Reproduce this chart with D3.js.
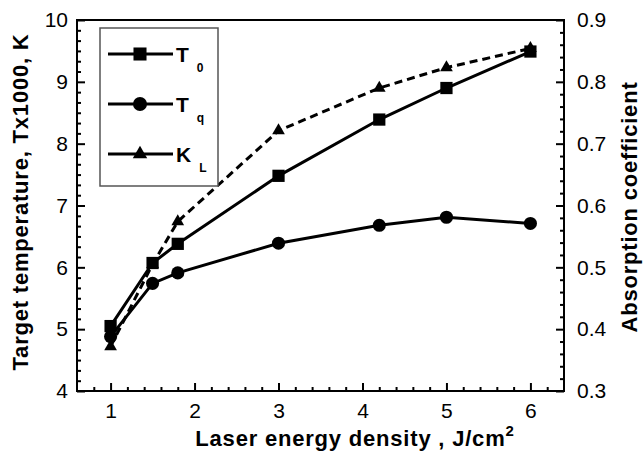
<!DOCTYPE html>
<meta charset="utf-8">
<head>
<style>
  body { margin: 0; background: #fff; }
  svg text { font-family: "Liberation Sans", Arial, sans-serif; fill: #000; }
  .tick text { font-size: 21px; }
  .title { font-size: 22px; font-weight: bold; letter-spacing: 0.8px; }
  .leg { font-size: 21px; font-weight: bold; }
</style>
</head>
<script src="https://d3js.org/d3.v7.min.js"></script>
<div id="chart"></div>
<script>
// data
var energy = [1, 1.5, 1.8, 3, 4.2, 5, 6];
var tempT0 = [5.05, 6.07, 6.38, 7.48, 8.39, 8.9, 9.49];
var tempTq = [4.88, 5.74, 5.91, 6.39, 6.68, 6.81, 6.71];
var absorbKL = [0.372, 0.505, 0.574, 0.721, 0.79, 0.823, 0.854];

var xTicks = [1, 2, 3, 4, 5, 6];
var yTicks = [4, 5, 6, 7, 8, 9, 10];
var y2Ticks = [0.3, 0.4, 0.5, 0.6, 0.7, 0.8, 0.9];

var W = 644, H = 456;
var plotL = 77, plotR = 564, plotT = 20, plotB = 391;

var svg = d3.select("#chart").append("svg")
    .attr("width", W).attr("height", H);

var x = d3.scaleLinear().domain([0.6, 6.4]).range([plotL, plotR]);
var y = d3.scaleLinear().domain([4, 10]).range([plotB, plotT]);
var y2 = d3.scaleLinear().domain([0.3, 0.9]).range([plotB, plotT]);

// minor tick positions
var xMinor = d3.range(0.8, 6.3, 0.2).filter(function(v) { return Math.abs(v - Math.round(v)) > 0.01; });
var yMinor = [];
yTicks.slice(0, -1).forEach(function(v) { for (var k = 1; k < 6; k++) yMinor.push(v + k / 6); });
var y2Minor = d3.range(0.32, 0.9, 0.02).filter(function(v) { return Math.abs(v * 10 - Math.round(v * 10)) > 0.01; });

function styleAxis(g) {
  g.select(".domain").remove();
  g.selectAll(".tick line").attr("stroke", "#000").attr("stroke-width", 2);
}

// x axis
svg.append("g").attr("transform", "translate(0," + plotB + ")")
  .call(d3.axisBottom(x).tickValues(xMinor).tickFormat("").tickSize(-4).tickSizeOuter(0))
  .call(styleAxis);
svg.append("g").attr("transform", "translate(0," + plotB + ")")
  .call(d3.axisBottom(x).tickValues(xTicks).tickFormat(d3.format("d")).tickSize(-8).tickSizeOuter(0).tickPadding(12))
  .call(styleAxis);

// left axis
svg.append("g").attr("transform", "translate(" + plotL + ",0)")
  .call(d3.axisLeft(y).tickValues(yMinor).tickFormat("").tickSize(-4).tickSizeOuter(0))
  .call(styleAxis);
svg.append("g").attr("transform", "translate(" + plotL + ",0)")
  .call(d3.axisLeft(y).tickValues(yTicks).tickFormat(d3.format("d")).tickSize(-8).tickSizeOuter(0).tickPadding(9))
  .call(styleAxis);

// right axis
svg.append("g").attr("transform", "translate(" + plotR + ",0)")
  .call(d3.axisRight(y2).tickValues(y2Minor).tickFormat("").tickSize(-4).tickSizeOuter(0))
  .call(styleAxis);
svg.append("g").attr("transform", "translate(" + plotR + ",0)")
  .call(d3.axisRight(y2).tickValues(y2Ticks).tickFormat(d3.format(".1f")).tickSize(-8).tickSizeOuter(0).tickPadding(13))
  .call(styleAxis);

svg.selectAll(".tick text").attr("fill", "#000");

// frame
svg.append("rect")
  .attr("x", plotL).attr("y", plotT)
  .attr("width", plotR - plotL).attr("height", plotB - plotT)
  .attr("fill", "none").attr("stroke", "#000").attr("stroke-width", 2);

// axis titles
var xt = svg.append("text").attr("class", "title")
  .attr("x", 355).attr("y", 446).attr("text-anchor", "middle");
xt.append("tspan").text("Laser energy density , J/cm");
xt.append("tspan").attr("dy", -10).attr("font-size", 15).text("2");

svg.append("text").attr("class", "title")
  .attr("transform", "translate(28,202) rotate(-90)")
  .attr("text-anchor", "middle")
  .text("Target temperature, Tx1000, K");

svg.append("text").attr("class", "title")
  .attr("transform", "translate(637,207) rotate(-90)")
  .attr("text-anchor", "middle")
  .text("Absorption coefficient");

// series
var series = [
  {name: "K", sub: "L", vals: absorbKL, scale: y2, dash: "8,5", shape: d3.symbolTriangle, size: 70},
  {name: "T", sub: "q", vals: tempTq, scale: y, dash: null, shape: d3.symbolCircle, size: 135},
  {name: "T", sub: "0", vals: tempT0, scale: y, dash: null, shape: d3.symbolSquare, size: 150}
];

series.forEach(function(s) {
  var line = d3.line()
    .x(function(d, i) { return x(energy[i]); })
    .y(function(d) { return s.scale(d); });
  svg.append("path")
    .datum(s.vals)
    .attr("d", line)
    .attr("fill", "none")
    .attr("stroke", "#000")
    .attr("stroke-width", 3)
    .attr("stroke-dasharray", s.dash);
  svg.selectAll(null)
    .data(s.vals)
    .enter().append("path")
    .attr("d", d3.symbol().type(s.shape).size(s.size))
    .attr("transform", function(d, i) { return "translate(" + x(energy[i]) + "," + s.scale(d) + ")"; })
    .attr("fill", "#000");
});

// legend
var legendOrder = [series[2], series[1], series[0]];
svg.append("rect")
  .attr("x", 100).attr("y", 28).attr("width", 118).attr("height", 158)
  .attr("fill", "#fff").attr("stroke", "#555").attr("stroke-width", 1.5);

legendOrder.forEach(function(s, i) {
  var ly = 54 + i * 50;
  svg.append("line")
    .attr("x1", 108).attr("x2", 173).attr("y1", ly).attr("y2", ly)
    .attr("stroke", "#000").attr("stroke-width", 3);
  svg.append("path")
    .attr("d", d3.symbol().type(s.shape).size(s.size + 20))
    .attr("transform", "translate(140," + ly + ")")
    .attr("fill", "#000");
  var t = svg.append("text").attr("class", "leg").attr("x", 176).attr("y", ly + 8);
  t.append("tspan").text(s.name);
  t.append("tspan").attr("dx", 8).attr("dy", 10).attr("font-size", 12).text(s.sub);
});
</script>
